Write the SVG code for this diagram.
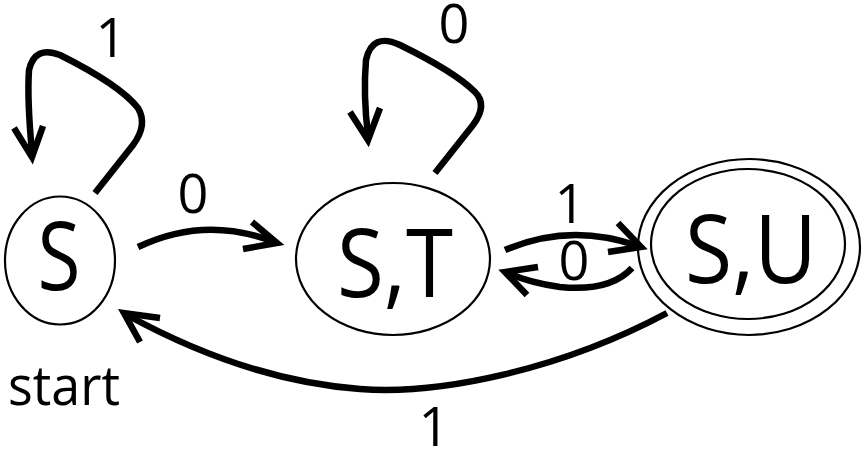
<svg xmlns="http://www.w3.org/2000/svg" width="863" height="452" viewBox="0 0 863 452">
<style>
.node{fill:none;stroke:#000;stroke-width:2.2}
.edge{fill:none;stroke:#000;stroke-width:6.5;stroke-linecap:butt}
.head{fill:none;stroke:#000;stroke-width:6.5;stroke-linejoin:miter;stroke-linecap:butt}
.big{font-family:"Open Sans","Lato","Liberation Sans",sans-serif;font-size:96px;fill:#000;text-anchor:middle}
.lbl{font-family:"Open Sans","Lato","Liberation Sans",sans-serif;font-size:54px;fill:#000;text-anchor:middle}
</style>
<rect width="863" height="452" fill="#fff"/>
<g id="connectors">
  <g id="loop-S">
    <path class="edge" d="M95,193 L133,145 Q148,125 138,108 Q120,85 60,55 Q35,45 29,70 Q27,100 32,152"/>
    <polyline class="head" points="14,128 32,157 43,126"/>
  </g>
  <g id="loop-ST">
    <path class="edge" d="M435,173 L473,125 Q488,105 475,92 Q455,72 400,45 Q372,32 366,60 Q363,95 368,135"/>
    <polyline class="head" points="350,112 368,140 380,108"/>
  </g>
  <g id="S-ST">
    <path class="edge" d="M138,247 Q205,215 274,242"/>
    <polyline class="head" points="252,222 277,243 243,249"/>
  </g>
  <g id="ST-SU">
    <path class="edge" d="M505,250 Q570,222 638,246"/>
    <polyline class="head" points="618,223 641,247 608,252"/>
  </g>
  <g id="SU-ST">
    <path class="edge" d="M632,268 Q610,292 560,287 Q530,283 508,273"/>
    <polyline class="head" points="538,267 505,272 527,295"/>
  </g>
  <g id="SU-S">
    <path class="edge" d="M667,313 C560,370 440,395 360,389 C280,383 200,355 127,315"/>
    <polyline class="head" points="160,318 124,313 140,342"/>
  </g>
  <text class="lbl" x="111" y="57">1</text>
  <text class="lbl" x="454" y="43">0</text>
  <text class="lbl" x="193" y="213">0</text>
  <text class="lbl" x="570" y="223">1</text>
  <text class="lbl" x="574" y="280">0</text>
  <text class="lbl" x="434" y="446">1</text>
</g>
<g id="node-S">
  <ellipse class="node" cx="60" cy="260.5" rx="55" ry="64"/>
  <text class="big" x="59" y="290" textLength="43" lengthAdjust="spacingAndGlyphs">S</text>
</g>
<g id="node-ST">
  <ellipse class="node" cx="393" cy="259" rx="97" ry="76"/>
  <text class="big" x="395" y="297" textLength="116" lengthAdjust="spacingAndGlyphs">S,T</text>
</g>
<g id="node-SU">
  <ellipse class="node" cx="749" cy="247" rx="111" ry="88"/>
  <ellipse class="node" cx="748" cy="244" rx="97" ry="75"/>
  <text class="big" x="751" y="283" textLength="132" lengthAdjust="spacingAndGlyphs">S,U</text>
</g>
<text id="start" x="8" y="405" font-family="Open Sans, Lato, Liberation Sans, sans-serif" font-size="54" textLength="112" lengthAdjust="spacingAndGlyphs">start</text>
</svg>
